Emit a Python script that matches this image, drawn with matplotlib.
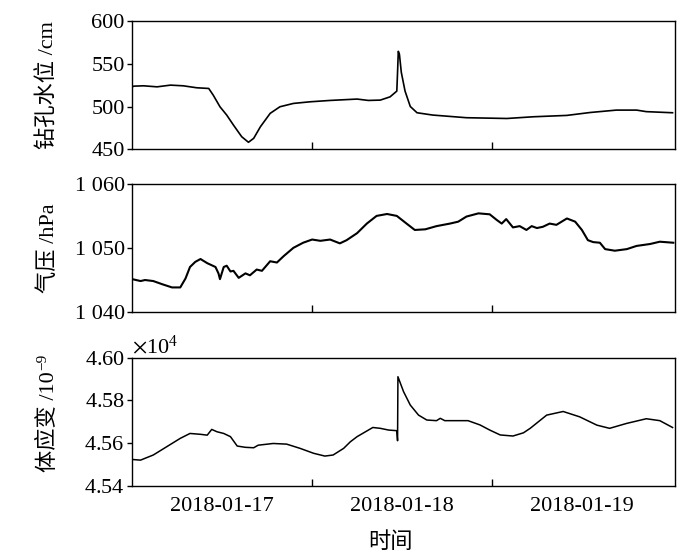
import matplotlib
matplotlib.use('Agg')
import matplotlib.pyplot as plt
from matplotlib.ticker import ScalarFormatter

plt.rcParams['font.family'] = ['Liberation Serif', 'Noto Sans CJK SC']
plt.rcParams['mathtext.fontset'] = 'stix'
plt.rcParams['font.size'] = 16

# time axis: hours since 2018-01-16 00:00
date_ticks = [24, 48, 72]
date_labels = ['2018-01-17', '2018-01-18', '2018-01-19']
half_day_ticks = [36, 60]

# borehole water level (cm)
wl_t = [12.0, 12.2, 13.5, 15.3, 17.1, 18.8, 20.6, 22.2, 22.8, 23.7, 24.6, 25.5,
        26.6, 27.5, 28.2, 29.1, 30.4, 31.7, 33.5, 35.7, 38.4, 42.0, 43.5, 45.1,
        46.4, 47.3, 47.4, 47.5, 47.65, 47.9, 48.4, 49.1, 50.0, 52.1, 56.6, 62.0,
        65.5, 70.0, 73.1, 76.6, 79.3, 80.6, 84.1]
wl_v = [523.0, 523.8, 524.2, 523.0, 525.0, 524.2, 521.9, 521.1, 513.3, 499.7, 490.0, 478.3,
        464.7, 458.2, 462.8, 476.4, 492.0, 499.7, 503.6, 505.5, 507.1, 508.7, 507.1, 507.5,
        511.3, 518.0, 540.0, 564.5, 561.0, 540.0, 518.0, 500.0, 492.7, 490.0, 486.9, 486.0,
        488.0, 489.6, 493.0, 495.8, 495.8, 494.0, 492.7]

# air pressure (hPa)
ap_t = [12.1, 13.1, 13.7, 14.8, 16.0, 17.3, 18.4, 19.1, 19.7, 20.4, 21.1, 22.0,
        23.1, 23.5, 23.7, 24.2, 24.6, 25.1, 25.5, 26.2, 27.1, 27.7, 28.6, 29.3,
        30.4, 31.3, 32.2, 33.5, 34.8, 36.0, 37.1, 38.4, 39.7, 40.6, 42.0, 43.3,
        44.6, 46.0, 47.3, 48.6, 49.7, 51.1, 52.6, 54.4, 55.5, 56.6, 58.2, 59.7,
        60.6, 61.3, 61.9, 62.8, 63.7, 64.6, 65.3, 66.0, 66.8, 67.7, 68.6, 70.0,
        71.1, 72.0, 72.8, 73.5, 74.4, 75.1, 76.4, 78.0, 79.3, 81.1, 82.4, 84.2]
ap_v = [1045.07, 1044.8, 1044.96, 1044.8, 1044.3, 1043.8, 1043.8, 1045.2, 1047.0, 1047.8, 1048.25, 1047.6,
        1047.0, 1046.0, 1045.1, 1047.0, 1047.2, 1046.3, 1046.4, 1045.3, 1046.0, 1045.7, 1046.6, 1046.4,
        1047.9, 1047.7, 1048.7, 1050.0, 1050.8, 1051.3, 1051.1, 1051.3, 1050.7, 1051.2, 1052.3, 1053.8,
        1055.0, 1055.3, 1055.0, 1053.8, 1052.8, 1052.9, 1053.4, 1053.8, 1054.1, 1054.9, 1055.4, 1055.25,
        1054.4, 1053.8, 1054.5, 1053.2, 1053.4, 1052.8, 1053.4, 1053.1, 1053.3, 1053.8, 1053.6, 1054.6,
        1054.1, 1052.8, 1051.2, 1050.9, 1050.8, 1049.8, 1049.55, 1049.8, 1050.3, 1050.6, 1050.96, 1050.8]

# volumetric strain (1e-9)
vs_t = [12.0, 13.1, 14.8, 16.6, 18.4, 19.7, 21.1, 22.0, 22.6, 23.3, 24.2, 25.1,
        26.0, 27.1, 28.2, 28.8, 30.8, 32.6, 34.4, 36.2, 37.7, 38.8, 40.2, 41.1,
        42.0, 44.1, 45.1, 46.2, 47.3, 47.4, 47.45, 48.2, 49.1, 50.2, 51.3, 52.6,
        53.1, 53.7, 56.8, 58.4, 59.7, 61.1, 62.8, 64.2, 65.1, 67.3, 69.5, 71.7,
        74.0, 75.7, 77.96, 80.6, 82.4, 84.1]
vs_v = [45523, 45520, 45544, 45583, 45622, 45645, 45641, 45637, 45664, 45653, 45645, 45630,
        45586, 45580, 45578, 45590, 45598, 45595, 45575, 45552, 45539, 45544, 45575, 45606,
        45630, 45673, 45669, 45661, 45658, 45611, 45911, 45841, 45778, 45731, 45708, 45705,
        45716, 45705, 45705, 45685, 45661, 45638, 45633, 45648, 45669, 45731, 45748, 45723,
        45684, 45669, 45692, 45714, 45705, 45673]

fig = plt.figure(figsize=(7, 5.56), dpi=100)
ax1 = fig.add_axes([0.189, 0.7315, 0.775, 0.2308])
ax2 = fig.add_axes([0.189, 0.4394, 0.775, 0.2297])
ax3 = fig.add_axes([0.189, 0.1264, 0.775, 0.2302])

ax1.plot(wl_t, wl_v, color='black', lw=1.2)
ax2.plot(ap_t, ap_v, color='black', lw=1.5)
ax3.plot(vs_t, vs_v, color='black', lw=1.1)

ax1.set_ylim(450, 600)
ax1.set_yticks([450, 500, 550, 600])
ax2.set_ylim(1040, 1060)
ax2.set_yticks([1040, 1050, 1060])
ax2.set_yticklabels(['1 040', '1 050', '1 060'])
ax3.set_ylim(45400, 46000)
ax3.set_yticks([45400, 45600, 45800, 46000])
fmt = ScalarFormatter(useMathText=True)
fmt.set_powerlimits((0, 0))
ax3.yaxis.set_major_formatter(fmt)

ax1.set_ylabel('钻孔水位 /cm')
ax2.set_ylabel('气压 /hPa')
ax3.set_ylabel('体应变 /10')

for ax in (ax1, ax2, ax3):
    ax.set_xlim(12, 84.4)
    ax.set_xticks(date_ticks)
    ax.set_xticks(half_day_ticks, minor=True)
    ax.tick_params(axis='x', which='major', length=0, pad=8)
    ax.tick_params(axis='x', which='minor', direction='in', length=5, width=1)
    ax.tick_params(axis='y', direction='out', length=3.5, width=1, pad=2)
    for s in ax.spines.values():
        s.set_linewidth(1.0)
    ax.yaxis.set_label_coords(-0.135, 0.5)

# superscript of the strain unit, placed after the rotated label
ax3.annotate('\u22129', xy=(0.0, 1.0), xycoords=ax3.yaxis.label,
             xytext=(-1, 1), textcoords='offset points',
             rotation=90, fontsize=11, ha='left', va='bottom')

ax1.set_xticklabels([])
ax2.set_xticklabels([])
ax3.set_xticklabels(date_labels)
ax3.set_xlabel('时间')
ax3.xaxis.set_label_coords(0.475, -0.36)

fig.savefig('out.png', dpi=100)
